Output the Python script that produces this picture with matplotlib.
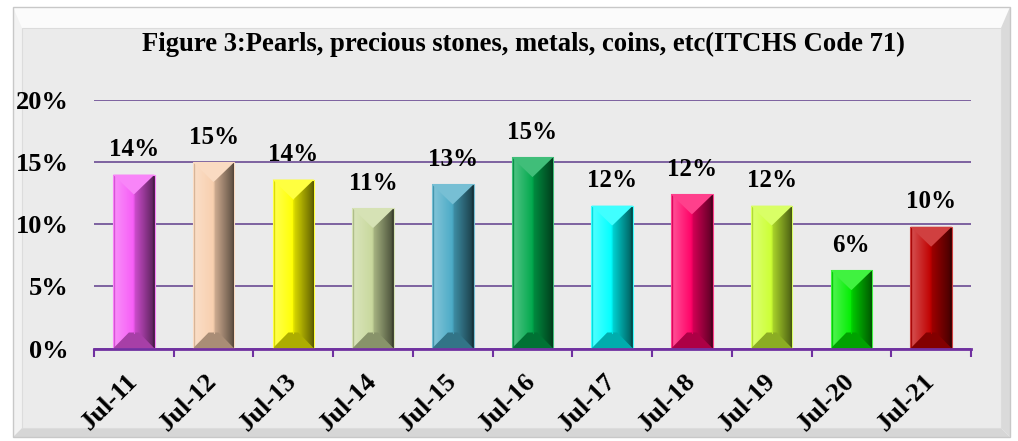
import matplotlib.pyplot as plt
import matplotlib.colors as mcolors
import numpy as np
from matplotlib.patches import Polygon, Rectangle

months = ['Jul-11', 'Jul-12', 'Jul-13', 'Jul-14', 'Jul-15', 'Jul-16',
          'Jul-17', 'Jul-18', 'Jul-19', 'Jul-20', 'Jul-21']
shares = [14.0, 15.0, 13.6, 11.3, 13.2, 15.4, 11.5, 12.4, 11.5, 6.3, 9.8]
labels = ['14%', '15%', '14%', '11%', '13%', '15%', '12%', '12%', '12%', '6%', '10%']
colors = ['#f65cf6', '#f8cfae', '#ffff00', '#c8d89c', '#4aaac6', '#00a84c',
          '#00ffff', '#ff0066', '#ccff33', '#00ee00', '#c00000']

plt.rcParams['font.family'] = ['Liberation Serif', 'DejaVu Serif']
plt.rcParams['font.weight'] = 'bold'

W, H = 1018, 441
fig = plt.figure(figsize=(W / 100, H / 100), dpi=100)
fig.patch.set_facecolor('white')


def fx(px):
    return px / W


def fy(py):
    return 1 - py / H


# beveled chart frame
ox0, oy0, ox1, oy1 = 13, 7, 1010, 437
ix0, iy0, ix1, iy1 = 22, 28, 1001, 428
frame = [
    ([(ox0, oy0), (ox1, oy0), (ix1, iy0), (ix0, iy0)], '#fbfbfb'),
    ([(ox0, oy0), (ix0, iy0), (ix0, iy1), (ox0, oy1)], '#f2f2f2'),
    ([(ox1, oy0), (ox1, oy1), (ix1, iy1), (ix1, iy0)], '#dadada'),
    ([(ox0, oy1), (ix0, iy1), (ix1, iy1), (ox1, oy1)], '#d6d6d6'),
]
for pts, c in frame:
    fig.patches.append(Polygon([(fx(a), fy(b)) for a, b in pts], closed=True,
                               transform=fig.transFigure, facecolor=c,
                               edgecolor='none', zorder=0))
fig.patches.append(Rectangle((fx(ix0), fy(iy1)), fx(ix1 - ix0), (iy1 - iy0) / H,
                             transform=fig.transFigure, facecolor='#ebebeb',
                             edgecolor='#dcdcdc', lw=0.8, zorder=0))
fig.patches.append(Rectangle((fx(ox0), fy(oy1)), fx(ox1 - ox0), (oy1 - oy0) / H,
                             transform=fig.transFigure, facecolor='none',
                             edgecolor='#c8c8c8', lw=1.0, zorder=1))

ax_left, ax_right, ax_bot, ax_top = 94, 971, 348.5, 100
ax = fig.add_axes([fx(ax_left), fy(ax_bot), fx(ax_right - ax_left), (ax_bot - ax_top) / H])
ax.set_facecolor('none')
ax.set_zorder(5)

x = np.arange(len(months))
bars = ax.bar(x, shares, width=0.52, color=colors, zorder=2, edgecolor='none')

ax.set_xlim(-0.5, len(months) - 0.5)
ax.set_ylim(0, 20)

# bevel / gradient for every bar
px_per_unit = (ax_bot - ax_top) / 20.0
n = 200
t = np.linspace(0, 1, n)
prof = np.where(t < 0.05, 0.85,
       np.where(t < 0.5, 1.12 - 0.12 * (t - 0.05) / 0.45,
       np.where(t < 0.95, 0.85 - 0.45 * (t - 0.5) / 0.45, 0.3)))


def shade(rgb, f):
    rgb = np.asarray(rgb)
    if f >= 1:
        return rgb + (1 - rgb) * (f - 1) * 2.5
    return rgb * f


for bar, c, lab in zip(bars, colors, labels):
    x0, w, h = bar.get_x(), bar.get_width(), bar.get_height()
    base = np.array(mcolors.to_rgb(c))
    img = np.array([shade(base, f) for f in prof]).reshape(1, n, 3)
    img = np.clip(img, 0, 1)
    im = ax.imshow(img, extent=(x0, x0 + w, 0, h), aspect='auto',
                   interpolation='bilinear', zorder=3)
    im.set_clip_path(bar)
    d_top = 20 / px_per_unit
    d_bot = 16 / px_per_unit
    top = Polygon([(x0, h), (x0 + w, h), (x0 + w / 2, h - d_top)], closed=True,
                  facecolor=np.clip(shade(base, 1.1), 0, 1), edgecolor='none', zorder=4)
    ax.add_patch(top)
    bot = Polygon([(x0, 0), (x0 + w, 0), (x0 + w * 0.62, d_bot), (x0 + w * 0.38, d_bot)],
                  closed=True, facecolor=shade(base, 0.68), edgecolor='none', zorder=4)
    ax.add_patch(bot)
    ax.plot([x0 + w / 2, x0 + w / 2], [d_bot, h - d_top], color=shade(base, 0.9),
            lw=0.8, zorder=4)
    ax.add_patch(Rectangle((x0, 0), w, h, facecolor='none',
                           edgecolor=np.clip(shade(base, 1.1), 0, 1), lw=0.8, zorder=5))
    ax.text(x0 + w / 2, h + 25 / px_per_unit, lab,
            ha='center', va='center', fontsize=18, fontweight='bold', zorder=6)

# grid and axes
ax.set_yticks([0, 5, 10, 15, 20])
ax.set_yticklabels(['0%', '5%', '10%', '15%', '20%'], fontsize=19, fontweight='bold')
ax.yaxis.grid(True, color='#7d629f', lw=1.4, zorder=1)
ax.set_axisbelow(True)
ax.tick_params(axis='y', length=0, pad=18)
for s in ['left', 'right', 'top']:
    ax.spines[s].set_visible(False)
ax.spines['bottom'].set_color('#7030a0')
ax.spines['bottom'].set_linewidth(2)
ax.spines['bottom'].set_zorder(6)

ax.set_xticks(x)
ax.set_xticklabels(months, rotation=45, ha='right', va='center', rotation_mode='anchor',
                   fontsize=19, fontweight='bold')
ax.tick_params(axis='x', which='major', length=0, pad=21)
ax.set_xticks(np.arange(-0.5, len(months)), minor=True)
ax.tick_params(axis='x', which='minor', length=6, width=1.5, color='#7030a0', direction='out')

fig.text(fx(523), fy(44), 'Figure 3:Pearls, precious stones, metals, coins, etc(ITCHS Code 71)',
         ha='center', va='center', fontsize=19.2, fontweight='bold', zorder=6)

fig.savefig('out.png', dpi=100, facecolor=fig.get_facecolor())
